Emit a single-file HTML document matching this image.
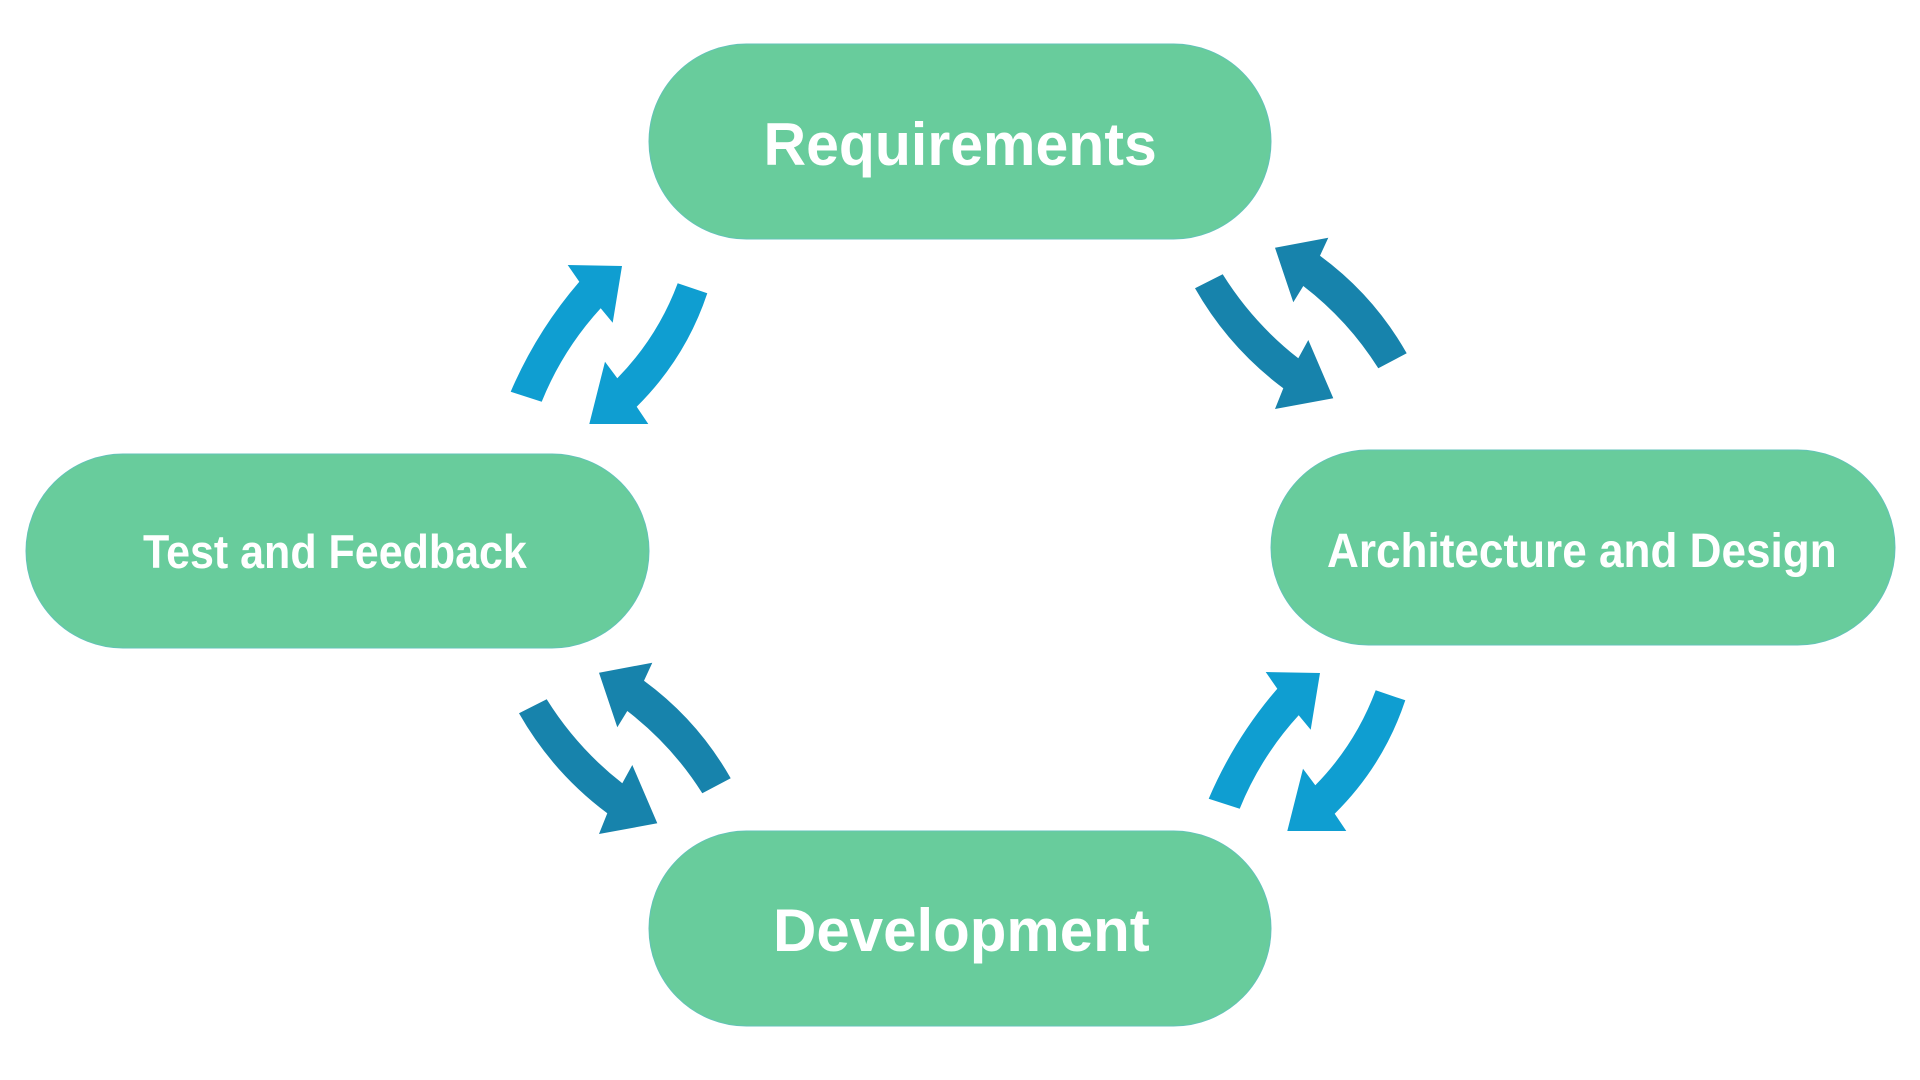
<!DOCTYPE html>
<html>
<head>
<meta charset="utf-8">
<style>
  html, body { margin: 0; padding: 0; background: #ffffff; }
  body { width: 1920px; height: 1080px; overflow: hidden; }
  svg { display: block; }
  .t { font-family: "Liberation Sans", Arial, sans-serif; font-weight: bold; fill: #ffffff; }
</style>
</head>
<body>
<svg width="1920" height="1080" viewBox="0 0 1920 1080" xmlns="http://www.w3.org/2000/svg">
  <rect x="0" y="0" width="1920" height="1080" fill="#ffffff"/>

  <!-- Pills -->
  <rect x="649" y="44" width="622" height="195" rx="97.5" ry="97.5" fill="#68CC9C" stroke="#63C3B8" stroke-width="1"/>
  <rect x="26" y="454" width="623" height="194" rx="97" ry="97" fill="#68CC9C" stroke="#63C3B8" stroke-width="1"/>
  <rect x="1271" y="450" width="624" height="195" rx="97.5" ry="97.5" fill="#68CC9C" stroke="#63C3B8" stroke-width="1"/>
  <rect x="649" y="831" width="622" height="195" rx="97.5" ry="97.5" fill="#68CC9C" stroke="#63C3B8" stroke-width="1"/>

  <!-- Labels -->
  <text class="t" font-size="60" transform="translate(763.5,165) scale(0.983,1)">Requirements</text>
  <text class="t" font-size="47" transform="translate(143,568) scale(0.915,1)">Test and Feedback</text>
  <text class="t" font-size="48" transform="translate(1327,567) scale(0.919,1)">Architecture and Design</text>
  <text class="t" font-size="60" transform="translate(773,951)">Development</text>

  <!-- Light blue pair (upper-left) -->
  <g fill="#0F9ED1">
    <path d="M510.7,391.7 Q536.5,331.4 579.3,281.7 L567.7,265 L622,266 L612.7,322.7 L600.7,308.3 Q562.8,349.7 541.7,401.7 Z"/>
    <path d="M707.3,293.3 Q685.6,358.4 636.7,406.7 L648.3,424 L589.3,424 L605,361.7 L617.3,378.3 Q657.6,337.2 677.7,283.3 Z"/>
  </g>
  <!-- Light blue pair (lower-right) -->
  <g fill="#0F9ED1" transform="translate(698,407)">
    <path d="M510.7,391.7 Q536.5,331.4 579.3,281.7 L567.7,265 L622,266 L612.7,322.7 L600.7,308.3 Q562.8,349.7 541.7,401.7 Z"/>
    <path d="M707.3,293.3 Q685.6,358.4 636.7,406.7 L648.3,424 L589.3,424 L605,361.7 L617.3,378.3 Q657.6,337.2 677.7,283.3 Z"/>
  </g>

  <!-- Dark blue pair (upper-right) -->
  <g fill="#1783AC">
    <path d="M1195,288.3 Q1228.7,347.6 1283.3,388.3 L1275,409 L1333.3,398.3 L1308.3,340 L1298.3,358.3 Q1253.1,323 1222.7,274.3 Z"/>
    <path d="M1406.7,353.3 Q1373.9,295.2 1320,255.7 L1328.3,237.7 L1275,247.7 L1293.3,302.3 L1303.3,286 Q1348.2,320.5 1378.3,368.3 Z"/>
  </g>
  <!-- Dark blue pair (lower-left) -->
  <g fill="#1783AC" transform="translate(-676,425)">
    <path d="M1195,288.3 Q1228.7,347.6 1283.3,388.3 L1275,409 L1333.3,398.3 L1308.3,340 L1298.3,358.3 Q1253.1,323 1222.7,274.3 Z"/>
    <path d="M1406.7,353.3 Q1373.9,295.2 1320,255.7 L1328.3,237.7 L1275,247.7 L1293.3,302.3 L1303.3,286 Q1348.2,320.5 1378.3,368.3 Z"/>
  </g>
</svg>
</body>
</html>
